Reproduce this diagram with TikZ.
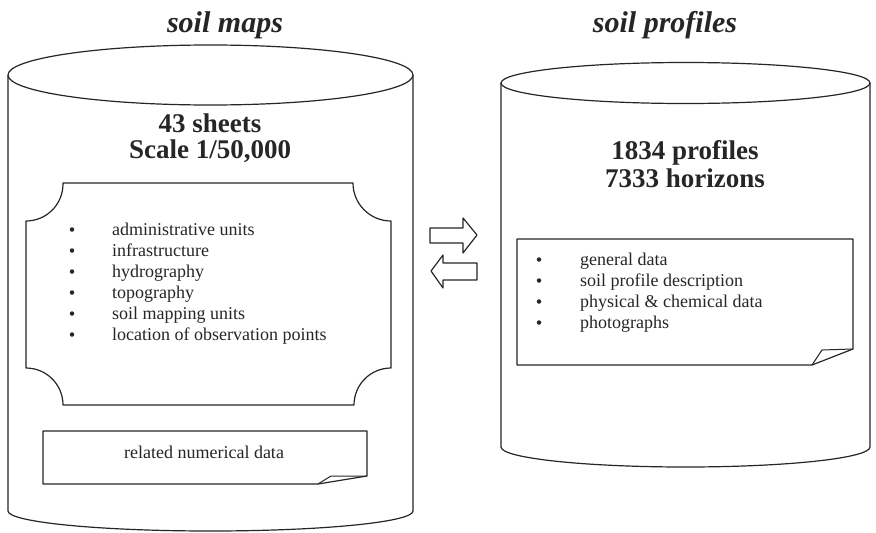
\documentclass[tikz,border=0pt]{standalone}
\usepackage{fontspec}
\setmainfont{Liberation Serif}
\begin{document}
\begin{tikzpicture}[x=1pt,y=1pt,
  outline/.style={draw=black!85, line width=1.2pt, line join=round},
  thin outline/.style={draw=black!85, line width=1pt, line join=round},
  title/.style={font=\fontsize{30}{32}\selectfont\bfseries\itshape, text=black!85, anchor=base, inner sep=0pt},
  bigbold/.style={font=\fontsize{27}{27}\selectfont\bfseries, text=black!85, anchor=base, inner sep=0pt},
  itemtext/.style={font=\fontsize{18}{18}\selectfont, text=black!85, anchor=base west, inner sep=0pt},
  bulletmark/.style={circle, fill=black!85, inner sep=0pt, minimum size=4.5pt},
]
\useasboundingbox (0,0) rectangle (876,-533);
\fill[white] (0,0) rectangle (876,-533);

% titles
\node[title] (t1) at (225,-32) {soil maps};
\node[title] (t2) at (665,-32) {soil profiles};

% left cylinder
\draw[outline] (8,-75) -- (8,-511) arc[start angle=180, end angle=360, x radius=202.5pt, y radius=20pt] -- (413,-75);
\draw[outline, fill=white] (210.5,-75) ellipse [x radius=202.5pt, y radius=30pt];

% right cylinder
\draw[outline] (501,-83) -- (501,-447) arc[start angle=180, end angle=360, x radius=184.5pt, y radius=20pt] -- (870,-83);
\draw[outline, fill=white] (685.5,-83) ellipse [x radius=184.5pt, y radius=20.5pt];

% left bold text
\node[bigbold] (s1) at (210,-132) {43 sheets};
\node[bigbold] (s2) at (210,-158) {Scale 1/50,000};

% right bold text
\node[bigbold] (p1) at (685,-159) {1834 profiles};
\node[bigbold] (p2) at (685,-187) {7333 horizons};

% plaque (map sheet)
\draw[outline] (63,-183) -- (353,-183)
  arc[start angle=180, end angle=270, radius=38pt]
  -- (391,-368)
  arc[start angle=90, end angle=180, radius=37pt]
  -- (63,-405)
  arc[start angle=0, end angle=90, radius=37pt]
  -- (26,-221)
  arc[start angle=270, end angle=360, radius=37pt] -- cycle;

\foreach \t [count=\i] in {administrative units, infrastructure, hydrography, topography, soil mapping units, location of observation points}{
  \node[bulletmark] (lb\i) at (72,-229.5-21*\i+21) {};
  \node[itemtext] (li\i) at (112,-235-21*\i+21) {\t};
}

% related numerical data note
\draw[outline] (43,-431) -- (367,-431) -- (367,-476) -- (318,-484) -- (43,-484) -- cycle;
\draw[thin outline] (318,-484) .. controls (324,-480) .. (331,-476) -- (367,-476);
\node[font=\fontsize{18}{18}\selectfont, text=black!85] (rn) at (204,-452) {related numerical data};

% right note
\draw[outline] (517,-239) -- (853,-239) -- (853,-349) -- (812,-365) -- (517,-365) -- cycle;
\draw[thin outline] (812,-365) .. controls (817,-358) .. (822,-350) -- (853,-349);
\foreach \t [count=\i] in {general data, soil profile description, physical \& chemical data, photographs}{
  \node[bulletmark] (rb\i) at (539,-259.5-21*\i+21) {};
  \node[itemtext] (ri\i) at (580,-265-21*\i+21) {\t};
}

% exchange arrows
\draw[outline, fill=white] (430,-228) -- (463,-228) -- (463,-218) -- (477,-235) -- (463,-253) -- (463,-243) -- (430,-243) -- cycle;
\draw[outline, fill=white] (477,-263) -- (443,-263) -- (443,-255) -- (431,-271) -- (443,-288) -- (443,-280) -- (477,-280) -- cycle;
\end{tikzpicture}
\end{document}
